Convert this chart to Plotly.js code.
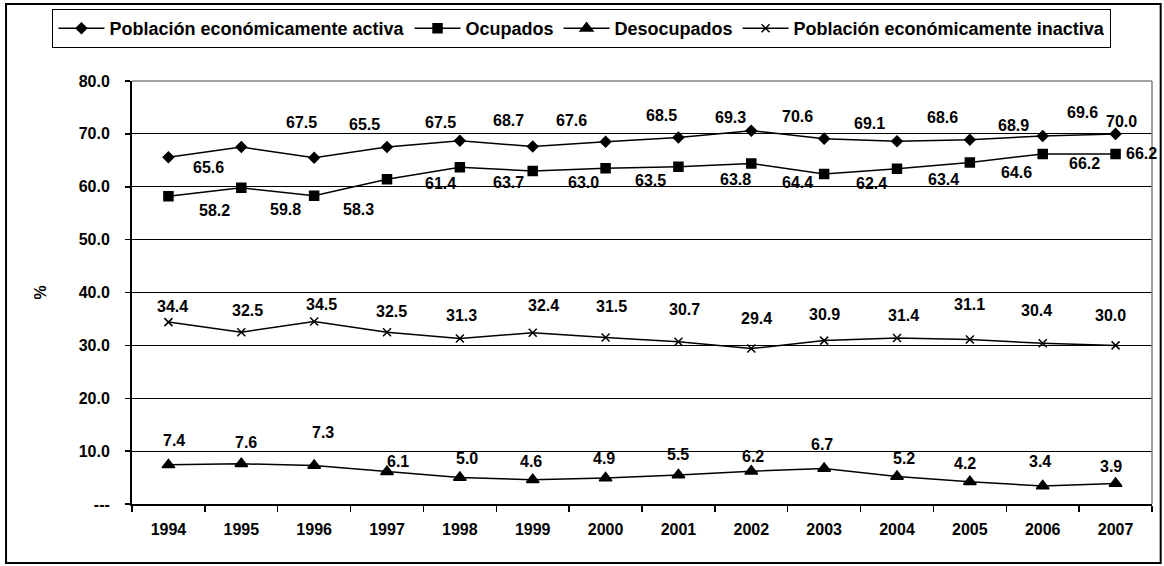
<!DOCTYPE html>
<html>
<head>
<meta charset="utf-8">
<script src="https://cdn.plot.ly/plotly-3.0.1.min.js"></script>
<style>
  html, body { margin: 0; padding: 0; background: #fff; }
  #chart { width: 1164px; height: 566px; }
</style>
</head>
<body>
<div id="chart"></div>
<script>
// Años y series (%)
var years = ['1994', '1995', '1996', '1997', '1998', '1999', '2000',
             '2001', '2002', '2003', '2004', '2005', '2006', '2007'];
var activa   = [65.6, 67.5, 65.5, 67.5, 68.7, 67.6, 68.5, 69.3, 70.6, 69.1, 68.6, 68.9, 69.6, 70.0];
var ocupados = [58.2, 59.8, 58.3, 61.4, 63.7, 63.0, 63.5, 63.8, 64.4, 62.4, 63.4, 64.6, 66.2, 66.2];
var desocupados = [7.4, 7.6, 7.3, 6.1, 5.0, 4.6, 4.9, 5.5, 6.2, 6.7, 5.2, 4.2, 3.4, 3.9];
var inactiva = [34.4, 32.5, 34.5, 32.5, 31.3, 32.4, 31.5, 30.7, 29.4, 30.9, 31.4, 31.1, 30.4, 30.0];

var yTickVals = [0, 10, 20, 30, 40, 50, 60, 70, 80];
var yTickText = ['---', '10.0', '20.0', '30.0', '40.0', '50.0', '60.0', '70.0', '80.0'];

// desplazamiento de las etiquetas (px) respecto a cada punto, como en el original
var activaShift = [[40, 10], [60, -25], [50, -33], [53, -25], [49, -20], [39, -26], [56, -26],
                   [52, -20], [46, -14], [45, -15], [45, -24], [44, -14], [40, -23], [6, -12]];
var ocupadosShift = [[46, 14], [44, 22], [44, 14], [53, 4], [49, 15], [51, 12], [45, 12],
                     [57, 13], [46, 19], [47, 9], [46, 11], [47, 10], [42, 10], [26, 0]];
var desocupadosShift = [[6, -24], [5, -21], [9, -33], [11, -10], [7, -19], [-2, -18], [-2, -20],
                        [0, -20], [2, -15], [-2, -24], [7, -18], [-5, -18], [-3, -25], [-5, -17]];
var inactivaShift = [[4, -16], [6, -22], [7, -17], [4, -21], [2, -23], [11, -27], [6, -31],
                     [6, -32], [5, -30], [0, -26], [6, -22], [0, -35], [-6, -33], [-5, -30]];

var fontFamily = '"Liberation Sans", Arial, sans-serif';

function series(name, values, symbol, size) {
    return {
        x: years,
        y: values,
        name: name,
        type: 'scatter',
        mode: 'lines+markers',
        line: { color: 'black', width: 1.5 },
        marker: { symbol: symbol, size: size, color: 'black', line: { color: 'black', width: 1.5 } },
        hoverinfo: 'skip'
    };
}

var data = [
    series('Población económicamente activa', activa, 'diamond', 8),
    series('Ocupados', ocupados, 'square', 9),
    series('Desocupados', desocupados, 'triangle-up', 11),
    series('Población económicamente inactiva', inactiva, 'x-thin', 8)
];

// etiquetas de datos (x = índice de la categoría)
var annotations = [];
function addLabels(values, shifts) {
    values.forEach(function (v, i) {
        annotations.push({
            x: i, y: v, xref: 'x', yref: 'y',
            text: v.toFixed(1), showarrow: false,
            xanchor: 'center', yanchor: 'middle',
            xshift: shifts[i][0], yshift: -shifts[i][1],
            font: { family: fontFamily, size: 16, color: 'black', weight: 'bold' }
        });
    });
}
addLabels(activa, activaShift);
addLabels(ocupados, ocupadosShift);
addLabels(desocupados, desocupadosShift);
addLabels(inactiva, inactivaShift);

var layout = {
    width: 1164,
    height: 566,
    margin: { l: 132, r: 12, t: 81, b: 62, autoexpand: false },
    paper_bgcolor: 'white',
    plot_bgcolor: 'white',
    font: { family: fontFamily, size: 16, color: 'black', weight: 'bold' },
    showlegend: true,
    legend: {
        orientation: 'h',
        x: -0.078, y: 1.17,
        xanchor: 'left', yanchor: 'top',
        bordercolor: 'black', borderwidth: 1,
        itemwidth: 46,
        font: { family: fontFamily, size: 18, color: 'black', weight: 'bold' },
        itemclick: false, itemdoubleclick: false
    },
    xaxis: {
        type: 'category',
        range: [-0.5, years.length - 0.5],
        autorange: false,
        showgrid: false,
        showline: true, linecolor: 'black', linewidth: 2,
        ticks: 'outside', tickson: 'boundaries', ticklen: 6, tickwidth: 1.5, tickcolor: 'black',
        ticklabelstandoff: 10,
        tickangle: 0,
        tickfont: { family: fontFamily, size: 16, color: 'black', weight: 'bold' },
        fixedrange: true
    },
    yaxis: {
        range: [0, 80],
        autorange: false,
        tickvals: yTickVals,
        ticktext: yTickText,
        showgrid: true, gridcolor: 'black', gridwidth: 1,
        zeroline: false,
        showline: true, linecolor: 'black', linewidth: 2,
        ticks: 'outside', ticklen: 5, tickwidth: 1.5, tickcolor: 'black',
        ticklabelstandoff: 12,
        tickfont: { family: fontFamily, size: 16, color: 'black', weight: 'bold' },
        title: { text: '%', standoff: 28, font: { family: fontFamily, size: 16, color: 'black', weight: 'bold' } },
        fixedrange: true
    },
    annotations: annotations,
    shapes: [
        // borde superior y derecho del área de trazado en gris
        { type: 'line', xref: 'paper', yref: 'paper', x0: 0, x1: 1, y0: 1, y1: 1,
          line: { color: '#808080', width: 1.5 } },
        { type: 'line', xref: 'paper', yref: 'paper', x0: 1, x1: 1, y0: 0, y1: 1,
          line: { color: '#808080', width: 1.5 } },
        // marco exterior del gráfico
        { type: 'rect', xref: 'paper', yref: 'paper', x0: -0.1235, x1: 1.0085, y0: -0.1395, y1: 1.182,
          line: { color: 'black', width: 2 } }
    ]
};

Plotly.newPlot('chart', data, layout, { displayModeBar: false, staticPlot: true });
</script>
</body>
</html>
